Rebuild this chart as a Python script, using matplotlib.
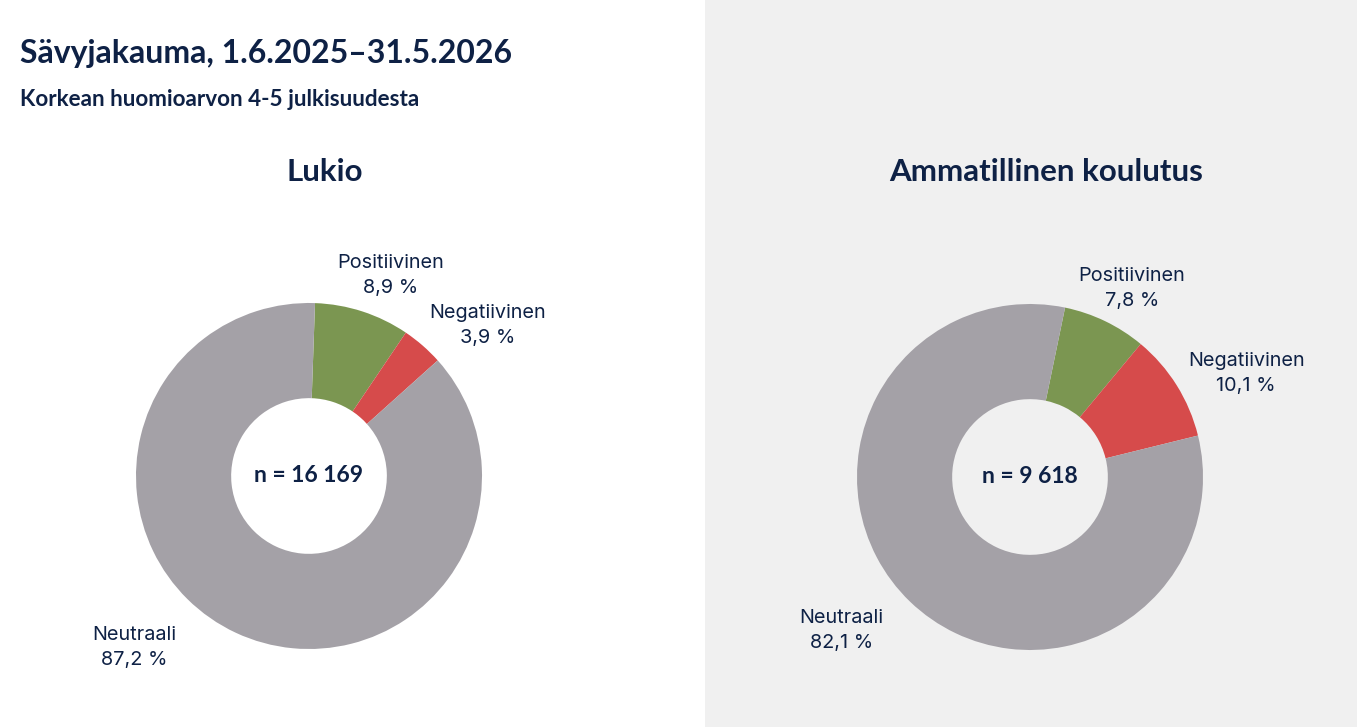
import matplotlib
matplotlib.use("Agg")
import matplotlib.pyplot as plt
from matplotlib.patches import Rectangle

W, H = 1357, 727
NAVY = "#0e2145"
COLORS = ["#7b9651", "#d64b4b", "#a4a1a7"]

CATEGORIES = ["Positiivinen", "Negatiivinen", "Neutraali"]
LUKIO_VALUES = [8.9, 3.9, 87.2]
AMM_VALUES = [7.8, 10.1, 82.1]
LUKIO_N = "n = 16 169"
AMM_N = "n = 9 618"

plt.rcParams["font.family"] = ["Lato", "DejaVu Sans"]


def fmt(v):
    return f"{v:.1f}".replace(".", ",") + " %"


def draw_donut(fig, cx, cy, values, n_text, title, start, label_pos):
    r_px = 173
    lim = 1.45
    size = 2 * lim * r_px
    ax = fig.add_axes([(cx - size / 2) / W, 1 - (cy + size / 2) / H, size / W, size / H])
    ax.pie(values, colors=COLORS, startangle=start, counterclock=False,
           radius=1.0, wedgeprops=dict(width=0.55, linewidth=0))
    # pie() resets the limits, so set them afterwards
    ax.set_xlim(-lim, lim)
    ax.set_ylim(-lim, lim)
    ax.set_aspect("equal")
    ax.axis("off")
    ax.text(0, 0, n_text, ha="center", va="center", fontsize=16.5,
            fontweight="bold", color=NAVY)
    for cat, v, (lx, ly) in zip(CATEGORIES, values, label_pos):
        ax.text(lx, ly, f"{cat}\n{fmt(v)}", ha="center", va="center",
                fontsize=14.3, color=NAVY, linespacing=1.5,
                family=["Inter", "DejaVu Sans"])
    fig.text((cx + 16) / W, 1 - 172 / H, title, ha="center", va="center",
             fontsize=22.5, fontweight="bold", color=NAVY)


fig = plt.figure(figsize=(W / 100, H / 100), dpi=100)
fig.patches.append(Rectangle((705 / W, 0), 1 - 705 / W, 1, transform=fig.transFigure,
                             facecolor="#f0f0f0", edgecolor="none", zorder=-1))

fig.text(20 / W, 1 - 53 / H, "Sävyjakauma, 1.6.2025–31.5.2026", ha="left", va="center",
         fontsize=23, fontweight="bold", color=NAVY)
fig.text(20 / W, 1 - 99 / H, "Korkean huomioarvon 4-5 julkisuudesta", ha="left", va="center",
         fontsize=16.2, fontweight="bold", color=NAVY)

draw_donut(fig, 309, 476, LUKIO_VALUES, LUKIO_N, "Lukio", 88,
           [(0.47, 1.16), (1.03, 0.87), (-1.01, -0.99)])
draw_donut(fig, 1030, 477, AMM_VALUES, AMM_N, "Ammatillinen koulutus", 78.3,
           [(0.59, 1.09), (1.25, 0.60), (-1.09, -0.89)])

fig.savefig("out.png", dpi=100)
